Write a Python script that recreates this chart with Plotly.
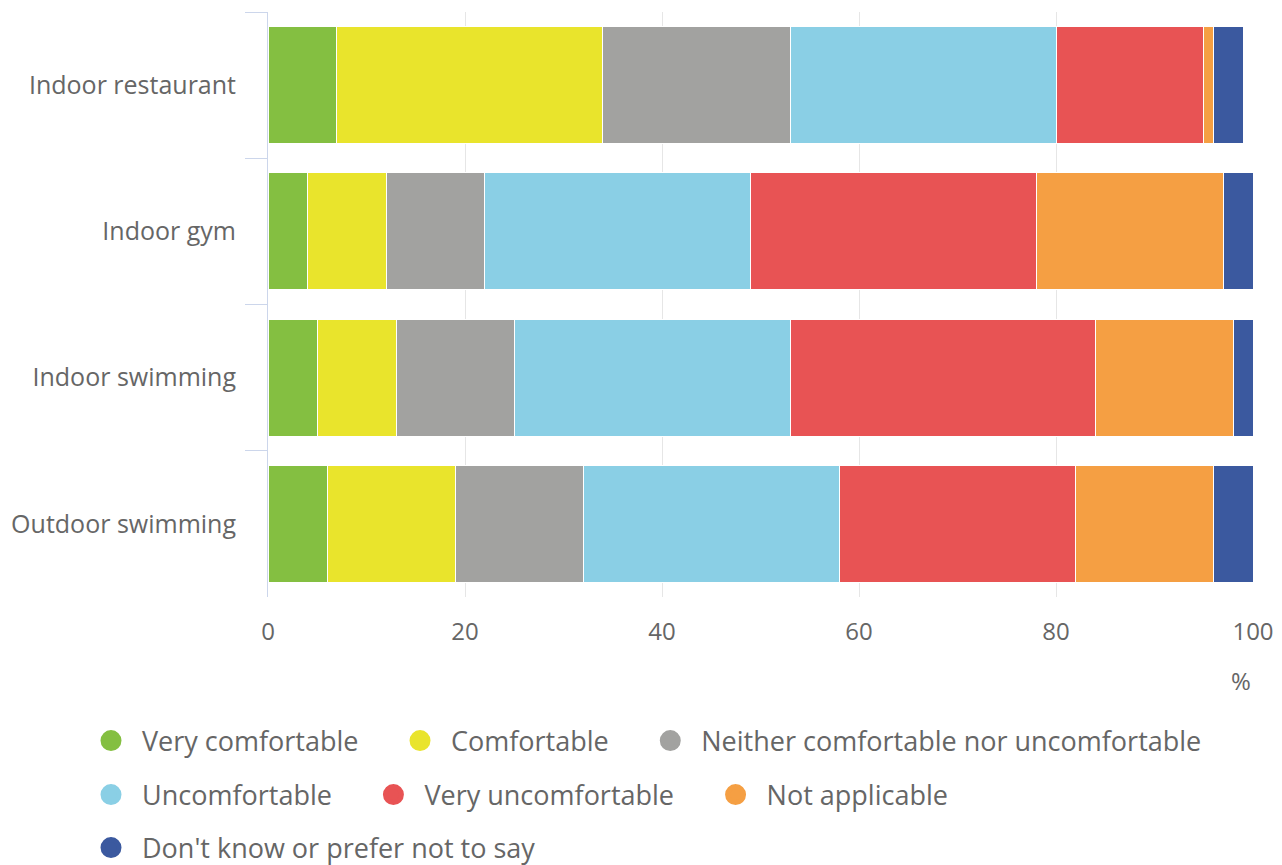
import plotly.graph_objects as go

categories = ["Indoor restaurant", "Indoor gym", "Indoor swimming", "Outdoor swimming"]
series_names = ["Very comfortable", "Comfortable", "Neither comfortable nor uncomfortable",
                "Uncomfortable", "Very uncomfortable", "Not applicable",
                "Don't know or prefer not to say"]
very_comfortable = [7, 4, 5, 6]
comfortable = [27, 8, 8, 13]
neither = [19, 10, 12, 13]
uncomfortable = [27, 27, 28, 26]
very_uncomfortable = [15, 29, 31, 24]
not_applicable = [1, 19, 14, 14]
dont_know = [3, 3, 2, 4]
x_ticks = [0, 20, 40, 60, 80, 100]

values = [very_comfortable, comfortable, neither, uncomfortable,
          very_uncomfortable, not_applicable, dont_know]
colors = ["#84bf41", "#e9e42c", "#a2a2a0", "#8acfe5", "#e85354", "#f59f43", "#3b599f"]
legend_rows = ["legend", "legend", "legend", "legend2", "legend2", "legend2", "legend3"]
row_last = [False, False, True, False, False, True, True]

FONT = "Open Sans"
GREY = "#666666"

fig = go.Figure()
for name, vals, col in zip(series_names, values, colors):
    fig.add_trace(go.Bar(
        y=categories, x=vals, name=name, orientation="h",
        marker=dict(color=col, line=dict(color="white", width=1)),
        showlegend=False,
    ))

pad = "\u00a0" * 3 + "\u2009"
for name, col, lg, last in zip(series_names, colors, legend_rows, row_last):
    fig.add_trace(go.Scatter(
        x=[None], y=[None], mode="markers", name=name if last else name + pad,
        marker=dict(symbol="circle", size=16, color=col, line=dict(color=col, width=5)),
        legend=lg, showlegend=True,
    ))

W, H = 1282, 865
PLOT_TOP, PLOT_BOTTOM, PLOT_LEFT, PLOT_W = 12, 597, 268, 985
PH = PLOT_BOTTOM - PLOT_TOP


def py(px):
    return (PLOT_BOTTOM - px) / PH


legend_common = dict(orientation="h", traceorder="normal", xanchor="left", yanchor="middle",
                     itemwidth=52, font=dict(family=FONT, size=27, color=GREY),
                     bgcolor="rgba(0,0,0,0)", itemclick=False, itemdoubleclick=False)

fig.update_layout(
    width=W, height=H,
    barmode="stack", bargap=0.2,
    paper_bgcolor="white", plot_bgcolor="white",
    margin=dict(l=268, r=29, t=12, b=268),
    font=dict(family=FONT, color=GREY),
    legend=dict(xref="paper", yref="paper", x=(80 - PLOT_LEFT) / PLOT_W, y=py(741),
                **legend_common),
    legend2=dict(xref="paper", yref="paper", x=(80 - PLOT_LEFT) / PLOT_W, y=py(795),
                 **legend_common),
    legend3=dict(xref="container", yref="container", x=80 / W, y=1 - 848 / H,
                 **legend_common),
    xaxis=dict(range=[0, 100], tickvals=x_ticks, showgrid=True, gridcolor="#e6e6e6",
               gridwidth=1, zeroline=False, showline=False, ticks="", automargin=False,
               tickfont=dict(family=FONT, size=24, color=GREY), ticklabelstandoff=18),
    yaxis=dict(categoryorder="array", categoryarray=categories, autorange="reversed",
               showline=True, linecolor="#ccd6eb", linewidth=1, automargin=False,
               ticks="outside", tickson="boundaries", ticklen=22, tickcolor="#ccd6eb",
               tickwidth=1, showgrid=False, ticklabelstandoff=26,
               tickfont=dict(family=FONT, size=25, color=GREY)),
    annotations=[dict(text="%", xref="paper", yref="paper", x=1, y=py(680),
                      xanchor="right", yanchor="middle", showarrow=False,
                      font=dict(family=FONT, size=24, color=GREY))],
)

fig.write_html("out.html", config={"displayModeBar": False},
               post_script="document.body.style.margin='0px';document.body.style.overflow='hidden';")
